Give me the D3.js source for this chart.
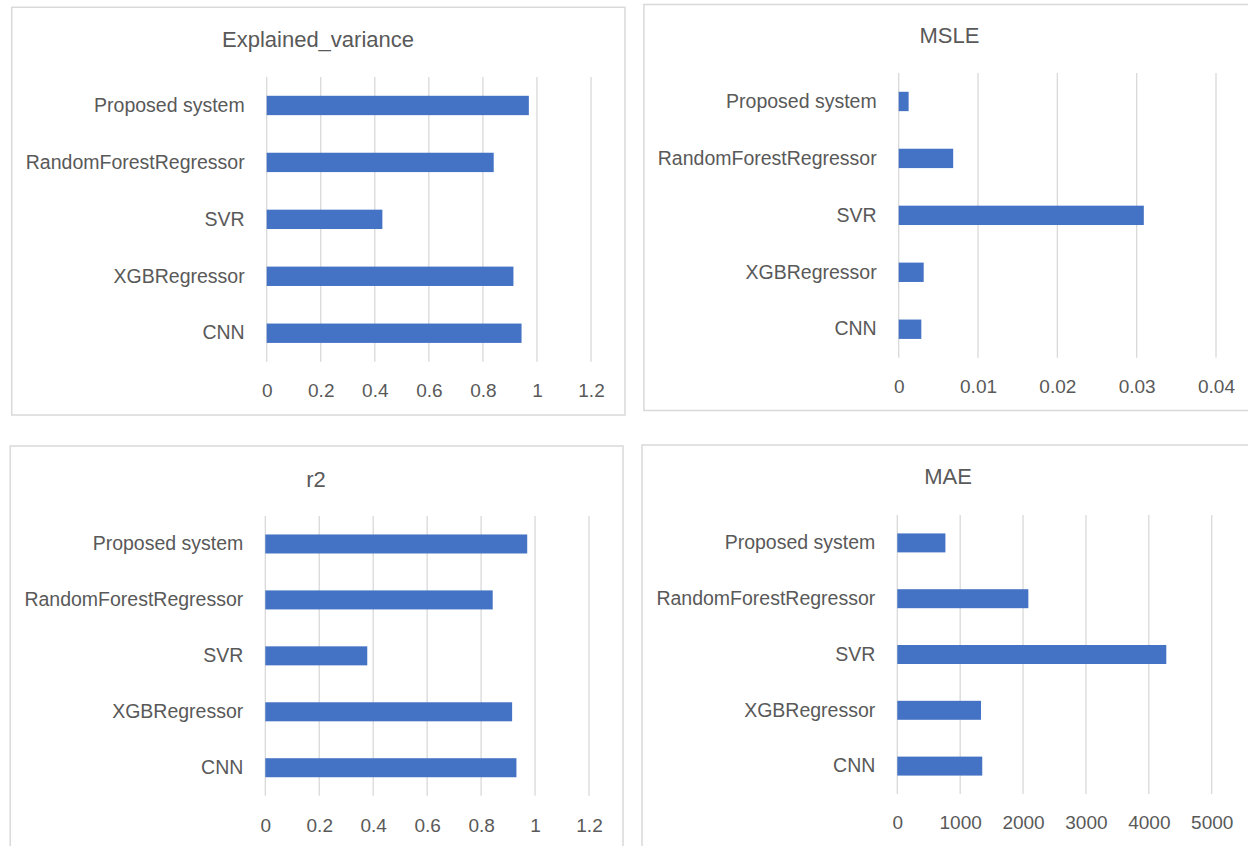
<!DOCTYPE html>
<html>
<head>
<meta charset="utf-8">
<script src="https://cdn.jsdelivr.net/npm/d3@7"></script>
<style>
    body { margin: 0; background: #ffffff; }
    svg { display: block; }
</style>
</head>
<body>
<div id="chart"></div>
<script>
// data
let categories = ['Proposed system', 'RandomForestRegressor', 'SVR', 'XGBRegressor', 'CNN'];

let explained_variance = [0.970, 0.840, 0.428, 0.913, 0.943];
let msle = [0.00125, 0.00687, 0.0309, 0.00315, 0.00285];
let r2 = [0.971, 0.843, 0.378, 0.915, 0.931];
let mae = [765, 2084, 4278, 1331, 1351];

let ev_ticks = [0, 0.2, 0.4, 0.6, 0.8, 1, 1.2];
let msle_ticks = [0, 0.01, 0.02, 0.03, 0.04];
let r2_ticks = [0, 0.2, 0.4, 0.6, 0.8, 1, 1.2];
let mae_ticks = [0, 1000, 2000, 3000, 4000, 5000];

let titles = ['Explained_variance', 'MSLE', 'r2', 'MAE'];

let fontFamily = '"Liberation Sans", Arial, sans-serif';
let textColor = '#595959';
let gridColor = '#d9d9d9';
let barColor = '#4472c4';

// panel layout (box, plot area, title and tick rows)
let layout = [
    { box: [11.7, 7.3, 625, 415], px: [266.7, 591], py: [77, 361.7], tx: 318, ty: 39.3, ky: 390.7 },
    { box: [643.9, 4.5, 1262, 410.5], px: [898.7, 1216], py: [73, 357.7], tx: 949.5, ty: 35, ky: 386.7 },
    { box: [10.2, 446, 623, 862], px: [265.3, 589], py: [516, 795.7], tx: 316, ty: 479.3, ky: 825 },
    { box: [642, 445, 1262, 862], px: [897.3, 1211.7], py: [515, 794], tx: 948, ty: 476.7, ky: 822 }
];

let svg = d3.select('#chart')
    .append('svg')
    .attr('width', 1248)
    .attr('height', 846);

function draw_panel(svg, lay, title, values, ticks) {
    let g = svg.append('g');

    // border
    g.append('rect')
        .attr('x', lay.box[0])
        .attr('y', lay.box[1])
        .attr('width', lay.box[2] - lay.box[0])
        .attr('height', lay.box[3] - lay.box[1])
        .attr('fill', '#ffffff')
        .attr('stroke', gridColor)
        .attr('stroke-width', 1.5);

    // title
    g.append('text')
        .attr('x', lay.tx)
        .attr('y', lay.ty)
        .attr('dy', '0.35em')
        .attr('text-anchor', 'middle')
        .attr('font-family', fontFamily)
        .attr('font-size', '22px')
        .attr('fill', textColor)
        .text(title);

    let x = d3.scaleLinear()
        .domain([ticks[0], ticks[ticks.length - 1]])
        .range(lay.px);

    let y = d3.scaleBand()
        .domain(categories)
        .range(lay.py)
        .paddingInner(0.66)
        .paddingOuter(0.33);

    // vertical gridlines
    g.append('g')
        .selectAll('line')
        .data(ticks)
        .enter()
        .append('line')
        .attr('x1', d => x(d))
        .attr('x2', d => x(d))
        .attr('y1', lay.py[0])
        .attr('y2', lay.py[1])
        .attr('stroke', gridColor)
        .attr('stroke-width', 1.3);

    // bars
    g.append('g')
        .selectAll('rect')
        .data(values)
        .enter()
        .append('rect')
        .attr('x', x(0))
        .attr('y', (d, i) => y(categories[i]))
        .attr('width', d => x(d) - x(0))
        .attr('height', y.bandwidth())
        .attr('fill', barColor);

    // x tick labels
    let axis_x = d3.axisBottom()
        .scale(x)
        .tickValues(ticks)
        .tickSize(0)
        .tickPadding(0)
        .tickFormat(d => d);
    let ax = g.append('g')
        .attr('transform', `translate(0, ${lay.ky})`)
        .call(axis_x);
    ax.select('.domain').remove();
    ax.selectAll('text')
        .attr('dy', '0.35em')
        .attr('y', 0)
        .attr('font-family', fontFamily)
        .attr('font-size', '19px')
        .attr('fill', textColor);

    // category labels
    let axis_y = d3.axisLeft()
        .scale(y)
        .tickSize(0)
        .tickPadding(22);
    let ay = g.append('g')
        .attr('transform', `translate(${x(0)}, 0)`)
        .call(axis_y);
    ay.select('.domain').remove();
    ay.selectAll('text')
        .attr('font-family', fontFamily)
        .attr('font-size', '19.5px')
        .attr('fill', textColor);
}

draw_panel(svg, layout[0], titles[0], explained_variance, ev_ticks);
draw_panel(svg, layout[1], titles[1], msle, msle_ticks);
draw_panel(svg, layout[2], titles[2], r2, r2_ticks);
draw_panel(svg, layout[3], titles[3], mae, mae_ticks);
</script>
</body>
</html>
